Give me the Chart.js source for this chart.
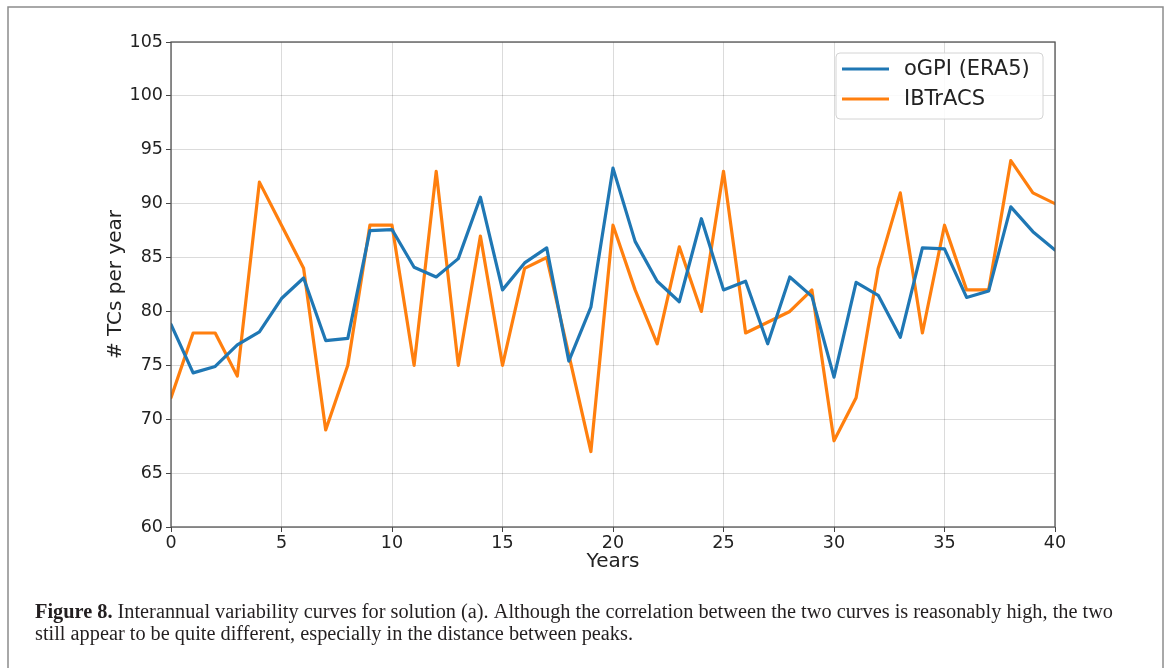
<!DOCTYPE html>
<html lang="en">
  <head>
    <meta charset="UTF-8" />
    <title>Interannual variability</title>
    <script src="https://cdn.jsdelivr.net/npm/chart.js"></script>
    <style>
      html,
      body {
        margin: 0;
        padding: 0;
        background-color: #ffffff;
      }
      .wrap {
        position: relative;
        width: 1170px;
        height: 668px;
      }
    </style>
  </head>
  <body>
    <div class="wrap">
      <canvas id="myChart"></canvas>
    </div>

    <script>
      // values
      const years = [
        0, 1, 2, 3, 4, 5, 6, 7, 8, 9, 10, 11, 12, 13, 14, 15, 16, 17, 18, 19,
        20, 21, 22, 23, 24, 25, 26, 27, 28, 29, 30, 31, 32, 33, 34, 35, 36, 37,
        38, 39, 40,
      ];
      const ogpi = [
        78.8, 74.3, 74.9, 76.9, 78.1, 81.2, 83.1, 77.3, 77.5, 87.5, 87.6, 84.1,
        83.2, 84.9, 90.6, 82.0, 84.5, 85.9, 75.4, 80.4, 93.3, 86.5, 82.8, 80.9,
        88.6, 82.0, 82.8, 77.0, 83.2, 81.4, 73.9, 82.7, 81.5, 77.6, 85.9, 85.8,
        81.3, 81.9, 89.7, 87.4, 85.7,
      ];
      const ibtracs = [
        72, 78, 78, 74, 92, 88, 84, 69, 75, 88, 88, 75, 93, 75, 87, 75, 84, 85,
        76, 67, 88, 82, 77, 86, 80, 93, 78, 79, 80, 82, 68, 72, 84, 91, 78, 88,
        82, 82, 94, 91, 90,
      ];
      const seriesNames = ["oGPI (ERA5)", "IBTrACS"];
      const xTicks = [0, 5, 10, 15, 20, 25, 30, 35, 40];
      const yTicks = [60, 65, 70, 75, 80, 85, 90, 95, 100, 105];
      const captionBold = "Figure 8.";
      const captionLines = [
        "Interannual variability curves for solution (a). Although the correlation between the two curves is reasonably high, the two",
        "still appear to be quite different, especially in the distance between peaks.",
      ];

      const toPoints = (ys) => years.map((x, i) => ({ x: x, y: ys[i] }));

      // white page, outer figure box and the axes frame
      const figureFrame = {
        id: "figureFrame",
        beforeDraw(chart) {
          const ctx = chart.ctx;
          ctx.save();
          ctx.fillStyle = "#ffffff";
          ctx.fillRect(0, 0, chart.width, chart.height);
          ctx.strokeStyle = "#8c8c8c";
          ctx.lineWidth = 1.5;
          ctx.strokeRect(8, 7, 1155, 700);
          ctx.restore();
        },
        afterDatasetsDraw(chart) {
          const { ctx, chartArea: a } = chart;
          ctx.save();
          ctx.strokeStyle = "#555555";
          ctx.lineWidth = 1.3;
          ctx.strokeRect(a.left, a.top, a.right - a.left, a.bottom - a.top);
          ctx.restore();
        },
      };

      // matplotlib style legend box in the upper right corner
      const boxLegend = {
        id: "boxLegend",
        afterDraw(chart) {
          const { ctx, chartArea: a } = chart;
          const x = a.right - 219;
          const y = a.top + 11;
          ctx.save();
          ctx.beginPath();
          ctx.roundRect(x, y, 207, 66, 4);
          ctx.fillStyle = "rgba(255,255,255,0.85)";
          ctx.fill();
          ctx.strokeStyle = "#d4d4d4";
          ctx.lineWidth = 1;
          ctx.stroke();
          ctx.font = "21px 'DejaVu Sans'";
          ctx.textBaseline = "middle";
          chart.data.datasets.forEach((ds, i) => {
            const ly = y + 16 + i * 30;
            ctx.strokeStyle = ds.borderColor;
            ctx.lineWidth = 3;
            ctx.beginPath();
            ctx.moveTo(x + 6, ly);
            ctx.lineTo(x + 53, ly);
            ctx.stroke();
            ctx.fillStyle = "#222222";
            ctx.fillText(ds.label, x + 68, ly + 1);
          });
          ctx.restore();
        },
      };

      // figure caption under the plot
      const caption = {
        id: "caption",
        afterDraw(chart) {
          const ctx = chart.ctx;
          const bold = "bold 20px 'Liberation Serif'";
          const reg = "20px 'Liberation Serif'";
          ctx.save();
          ctx.fillStyle = "#231f20";
          ctx.textBaseline = "alphabetic";
          ctx.font = bold;
          const bw = ctx.measureText(captionBold + " ").width;
          ctx.font = reg;
          const rw = ctx.measureText(captionLines[0]).width;
          const k = 1078 / (bw + rw);
          ctx.translate(35, 0);
          ctx.scale(k, 1);
          ctx.font = bold;
          ctx.fillText(captionBold, 0, 618);
          ctx.font = reg;
          ctx.fillText(captionLines[0], bw, 618);
          ctx.fillText(captionLines[1], 0, 640);
          ctx.restore();
        },
      };

      Chart.defaults.font.family = "'DejaVu Sans'";

      const gridStyle = {
        color: "rgba(0,0,0,0.14)",
        tickColor: "#444444",
        tickLength: 5,
        lineWidth: 1,
      };

      const ctx = document.getElementById("myChart").getContext("2d");
      const myChart = new Chart(ctx, {
        type: "line",
        data: {
          datasets: [
            {
              label: seriesNames[0],
              data: toPoints(ogpi),
              borderColor: "#1f77b4",
              borderWidth: 3.2,
            },
            {
              label: seriesNames[1],
              data: toPoints(ibtracs),
              borderColor: "#ff7f0e",
              borderWidth: 3.2,
            },
          ],
        },
        options: {
          responsive: true,
          maintainAspectRatio: false,
          animation: false,
          elements: {
            point: { radius: 0 },
            line: { tension: 0, borderJoinStyle: "round", borderCapStyle: "round" },
          },
          layout: {
            padding: { left: 104, top: 42, right: 115, bottom: 94 },
          },
          plugins: {
            legend: { display: false },
            tooltip: { enabled: false },
          },
          scales: {
            x: {
              type: "linear",
              min: 0,
              max: 40,
              afterBuildTicks: (s) => {
                s.ticks = xTicks.map((v) => ({ value: v }));
              },
              afterFit: (s) => {
                s.height = 47;
              },
              grid: gridStyle,
              border: { display: false },
              ticks: {
                color: "#222222",
                font: { size: 17.5 },
                padding: 1,
                maxRotation: 0,
              },
              title: {
                display: true,
                text: "Years",
                color: "#222222",
                font: { size: 20 },
                padding: 0,
              },
            },
            y: {
              min: 60,
              max: 105,
              afterBuildTicks: (s) => {
                s.ticks = yTicks.map((v) => ({ value: v }));
              },
              afterFit: (s) => {
                s.width = 67;
              },
              grid: gridStyle,
              border: { display: false },
              ticks: {
                color: "#222222",
                font: { size: 17.5 },
                padding: 3,
              },
              title: {
                display: true,
                text: "# TCs per year",
                color: "#222222",
                font: { size: 20 },
                padding: 0,
              },
            },
          },
        },
        plugins: [figureFrame, boxLegend, caption],
      });
    </script>
  </body>
</html>
